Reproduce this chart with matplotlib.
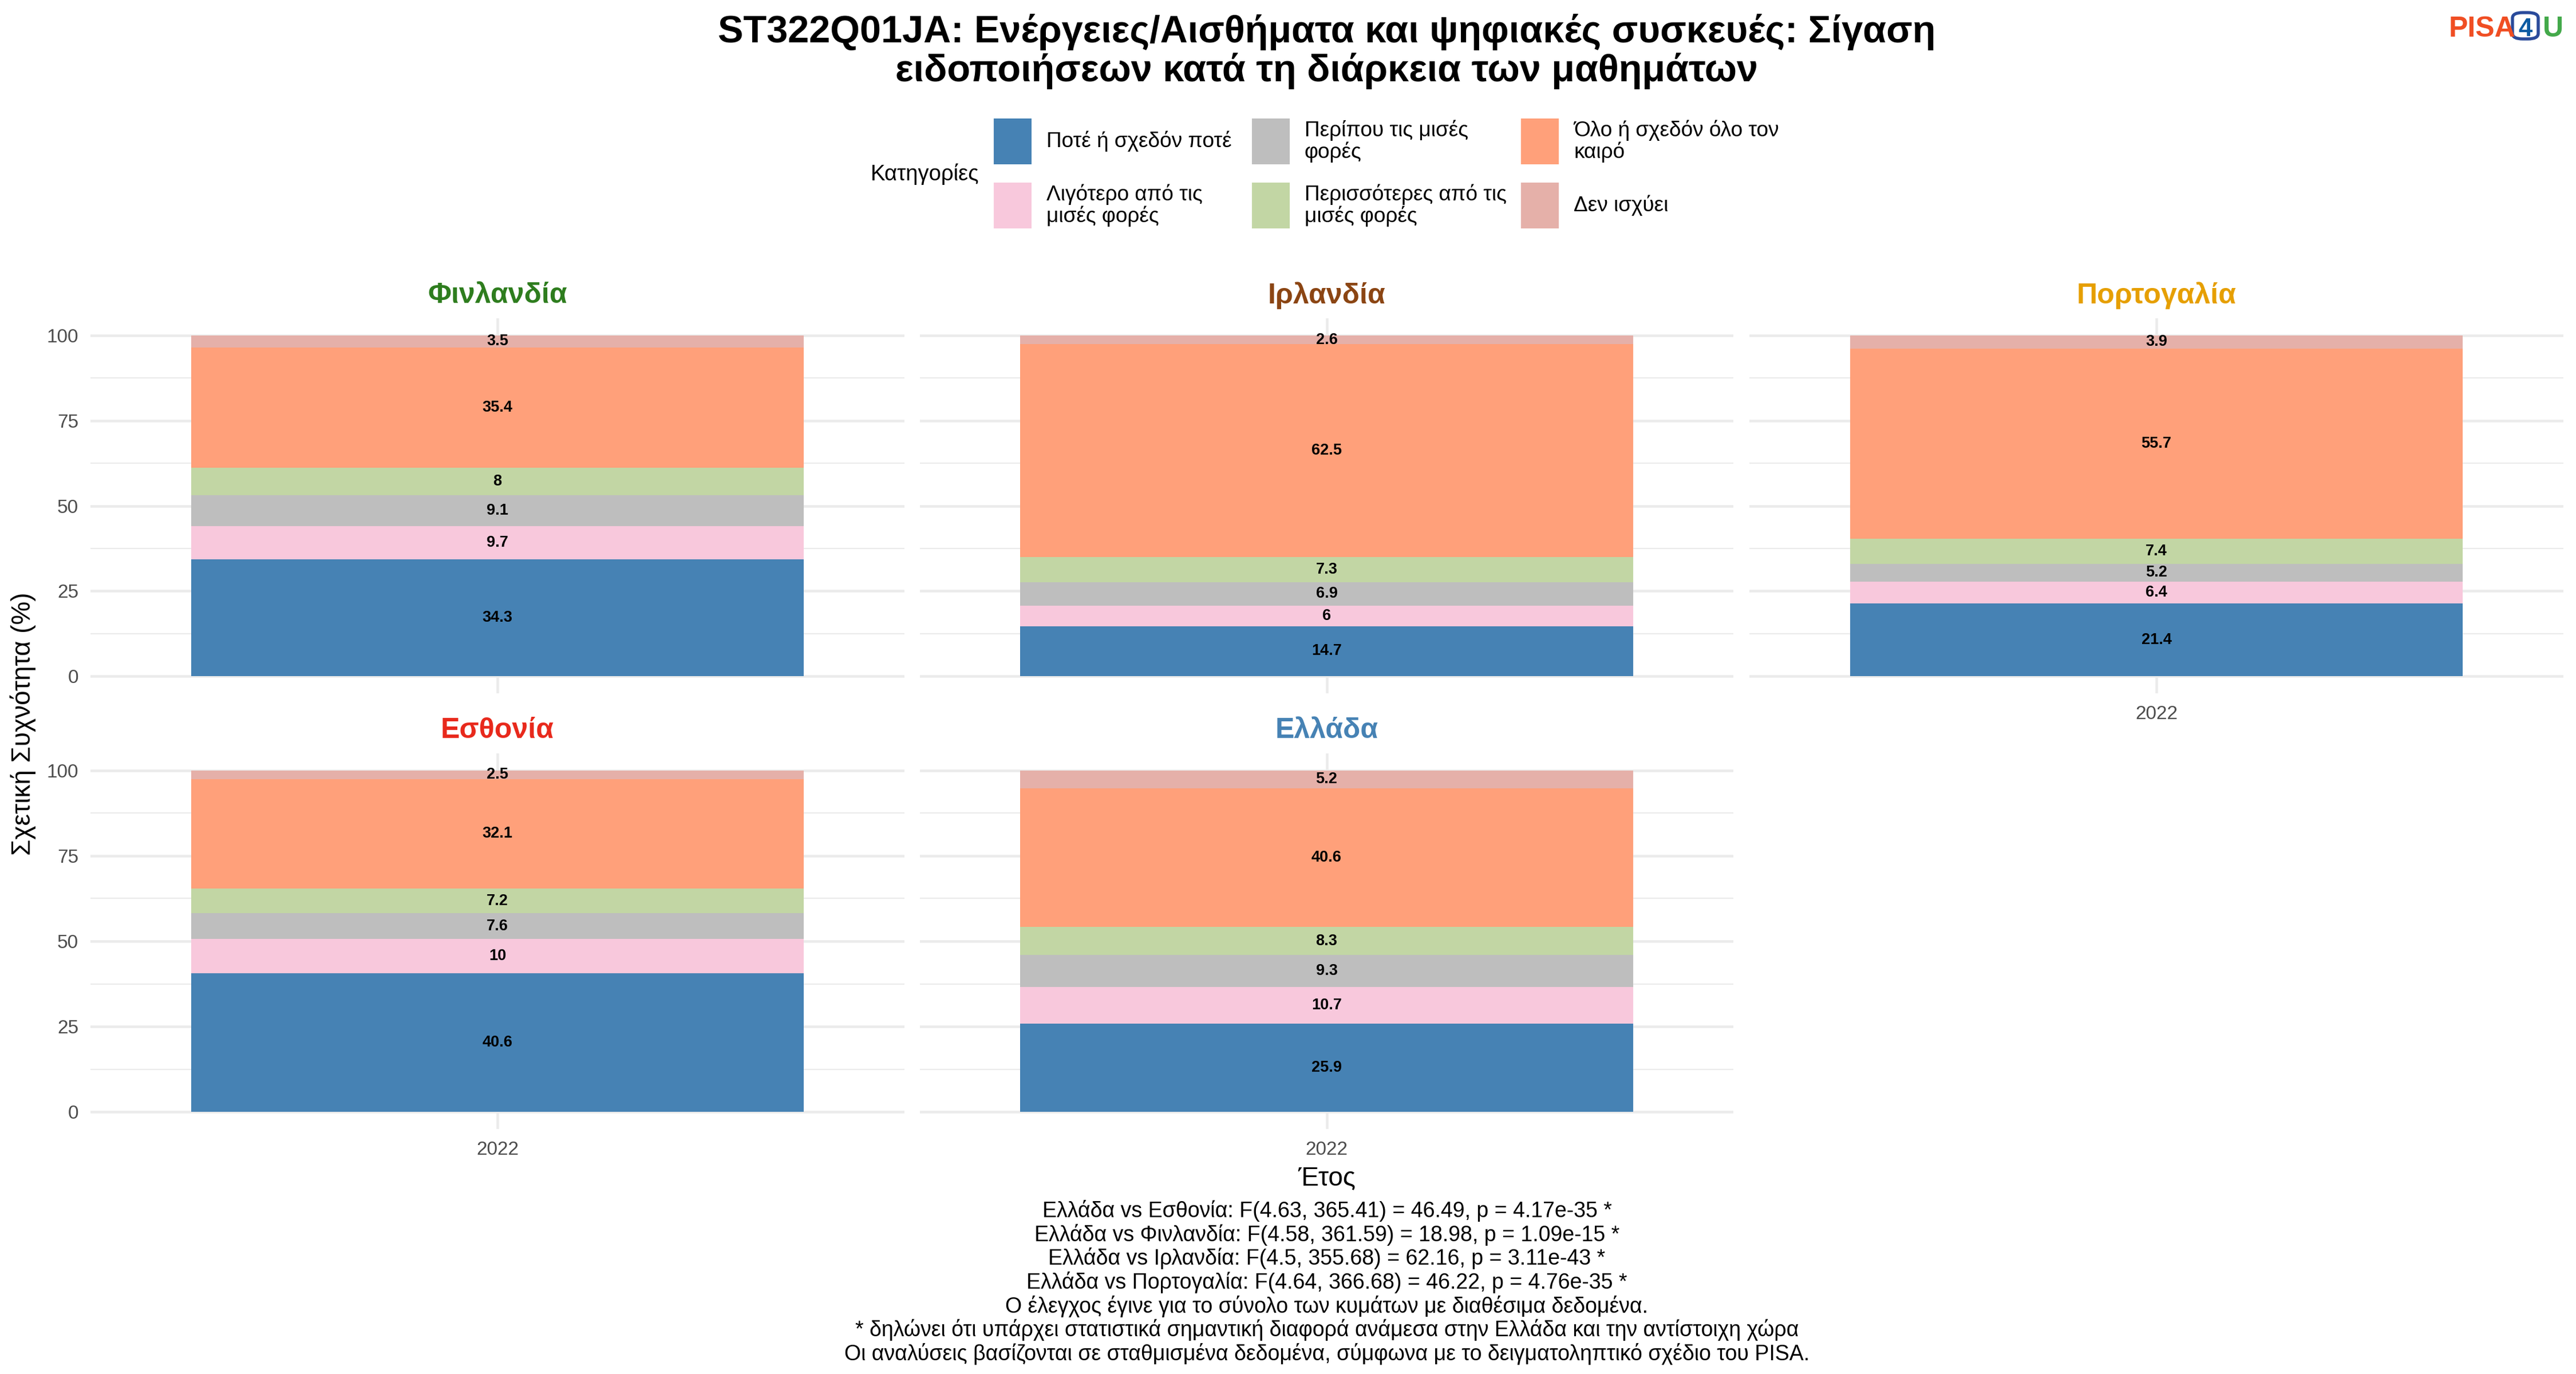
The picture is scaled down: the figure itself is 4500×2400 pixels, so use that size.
import matplotlib
matplotlib.use("Agg")
import matplotlib.pyplot as plt
from matplotlib.patches import Rectangle, FancyBboxPatch
import numpy as np

plt.rcParams['font.family'] = ['Liberation Sans', 'DejaVu Sans']

# data
countries = ["Φινλανδία", "Ιρλανδία", "Πορτογαλία", "Εσθονία", "Ελλάδα"]
country_colors = ["#2E7D1E", "#8B4513", "#E69F00", "#E8291C", "#4682B4"]
years = ["2022"]
categories = ["Ποτέ ή σχεδόν ποτέ", "Λιγότερο από τις\nμισές φορές", "Περίπου τις μισές\nφορές",
              "Περισσότερες από τις\nμισές φορές", "Όλο ή σχεδόν όλο τον\nκαιρό", "Δεν ισχύει"]
cat_colors = ["#4682B4", "#F8C8DC", "#BEBEBE", "#C2D6A4", "#FFA07A", "#E5B0A9"]

finland = [34.3, 9.7, 9.1, 8, 35.4, 3.5]
ireland = [14.7, 6, 6.9, 7.3, 62.5, 2.6]
portugal = [21.4, 6.4, 5.2, 7.4, 55.7, 3.9]
estonia = [40.6, 10, 7.6, 7.2, 32.1, 2.5]
greece = [25.9, 10.7, 9.3, 8.3, 40.6, 5.2]
values = [finland, ireland, portugal, estonia, greece]

notes = ["Ελλάδα vs Εσθονία: F(4.63, 365.41) = 46.49, p = 4.17e-35 *",
         "Ελλάδα vs Φινλανδία: F(4.58, 361.59) = 18.98, p = 1.09e-15 *",
         "Ελλάδα vs Ιρλανδία: F(4.5, 355.68) = 62.16, p = 3.11e-43 *",
         "Ελλάδα vs Πορτογαλία: F(4.64, 366.68) = 46.22, p = 4.76e-35 *",
         "Ο έλεγχος έγινε για το σύνολο των κυμάτων με διαθέσιμα δεδομένα.",
         "* δηλώνει ότι υπάρχει στατιστικά σημαντική διαφορά ανάμεσα στην Ελλάδα και την αντίστοιχη χώρα",
         "Οι αναλύσεις βασίζονται σε σταθμισμένα δεδομένα, σύμφωνα με το δειγματοληπτικό σχέδιο του PISA."]

W, H = 4500, 2400
fig = plt.figure(figsize=(15, 8), dpi=300)

def fx(px):
    return px / W

def fy(py):
    return 1 - py / H

col_x = [(158, 1580), (1607, 3028), (3056, 4478)]
row_y = [(556, 1211), (1316, 1972)]

for i, (name, vals) in enumerate(zip(countries, values)):
    r, c = divmod(i, 3)
    x0, x1 = col_x[c]
    y0, y1 = row_y[r]
    ax = fig.add_axes([fx(x0), fy(y1), fx(x1 - x0), (y1 - y0) / H])
    ax.set_xlim(-0.5, 0.5)
    ax.set_ylim(-5, 105)
    ax.set_yticks([0, 25, 50, 75, 100])
    ax.set_yticks([12.5, 37.5, 62.5, 87.5], minor=True)
    ax.set_xticks(range(len(years)))
    ax.grid(True, which='major', color="#EBEBEB", linewidth=1.1)
    ax.grid(True, which='minor', axis='y', color="#EBEBEB", linewidth=0.55)
    ax.set_axisbelow(True)
    for s in ax.spines.values():
        s.set_visible(False)
    ax.tick_params(which='both', length=0, labelsize=8, labelcolor="#4D4D4D", pad=5)
    if c != 0:
        ax.set_yticklabels([])
    if r == 1 or i == 2:
        ax.set_xticklabels(years)
    else:
        ax.set_xticklabels([])

    bottom = 0
    for v, col in zip(vals, cat_colors):
        ax.bar(0, v, bottom=bottom, width=0.753, color=col, linewidth=0)
        ax.text(0, bottom + v / 2, f"{v:g}", ha='center', va='center',
                fontsize=6.5, fontweight='bold', color='black')
        bottom += v

    ax.annotate(name, xy=(0.5, 1), xycoords='axes fraction', xytext=(0, 9.5),
                textcoords='offset points', ha='center', va='center',
                fontsize=12, fontweight='bold', color=country_colors[i])

# titles and axis labels
fig.text(fx(2318), fy(90), "ST322Q01JA: Ενέργειες/Αισθήματα και ψηφιακές συσκευές: Σίγαση\n"
         "ειδοποιήσεων κατά τη διάρκεια των μαθημάτων",
         ha='center', va='center', fontsize=16, fontweight='bold', linespacing=1.08)
fig.text(fx(40), fy(1264), "Σχετική Συχνότητα (%)", rotation=90, ha='center', va='center', fontsize=11)
fig.text(fx(2318), fy(2058), "Έτος", ha='center', va='center', fontsize=11)
fig.text(fx(2318), fy(2240), "\n".join(notes), ha='center', va='center', fontsize=9,
         linespacing=1.12, multialignment='center')

# legend
fig.text(fx(1521), fy(304), "Κατηγορίες", ha='left', va='center', fontsize=9.2)
key_x = [1736, 2187, 2657]
key_y = [207, 319]
for k, (lab, col) in enumerate(zip(categories, cat_colors)):
    c, r = divmod(k, 2)
    fig.patches.append(Rectangle((fx(key_x[c]), fy(key_y[r] + 80)), fx(66), 80 / H,
                                 transform=fig.transFigure, facecolor=col, edgecolor='none'))
    fig.text(fx(key_x[c] + 92), fy(key_y[r] + 40), lab, ha='left', va='center',
             fontsize=8.9, linespacing=1.05)

# logo
fig.text(fx(4278), fy(64), "PISA", ha='left', va='baseline', fontsize=12, fontweight='bold', color="#F04E23")
fig.patches.append(FancyBboxPatch((fx(4389), fy(68)), fx(45), 46 / H,
                                  boxstyle="round,pad=0,rounding_size=0.004",
                                  transform=fig.transFigure, facecolor='white',
                                  edgecolor="#2A4B9B", linewidth=1.3))
fig.text(fx(4411.5), fy(63), "4", ha='center', va='baseline', fontsize=10.5, fontweight='bold', color="#0B5AA2")
fig.text(fx(4442), fy(64), "U", ha='left', va='baseline', fontsize=12, fontweight='bold', color="#43A94A")

fig.savefig("out.png", dpi=300, facecolor='white')
